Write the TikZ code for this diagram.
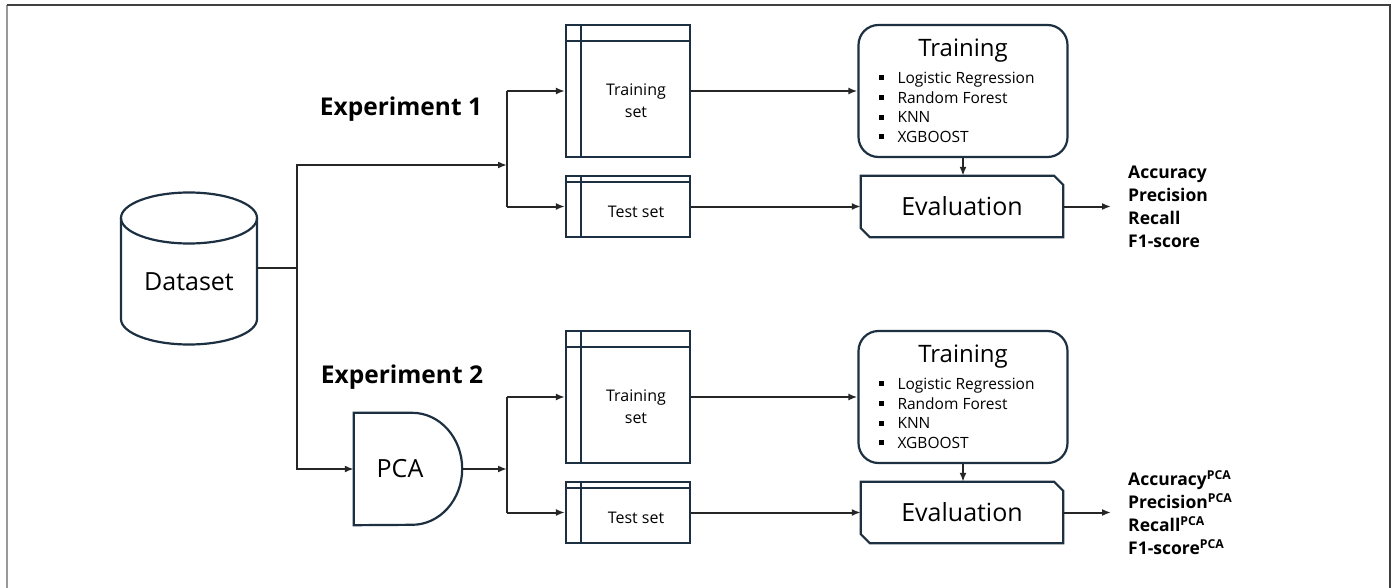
\documentclass[tikz,border=0pt]{standalone}
\usepackage{fontspec}
\setmainfont{Open Sans}
\usetikzlibrary{arrows.meta,positioning}

\definecolor{boxline}{RGB}{28,48,66}
\newcommand{\sqb}{\rule[0.22em]{0.32em}{0.32em}\hspace{0.9em}}

\tikzset{
  box/.style={draw=boxline,line width=2.2pt},
  conn/.style={line width=2pt,draw=black!85,-{Latex[length=9pt,width=7pt]}},
  plain/.style={line width=2pt,draw=black!85},
  setbox/.style={box,minimum width=124pt,inner sep=0pt},
  trnbox/.style={box,rounded corners=20pt,minimum width=209pt,minimum height=132pt},
  evalbox/.style={minimum width=202pt,minimum height=61pt,font=\fontsize{25}{30}\selectfont},
  metric/.style={anchor=west,align=left,inner xsep=17pt,font=\fontsize{17.5}{23}\selectfont\bfseries},
  expt/.style={font=\fontsize{24.5}{28}\selectfont\bfseries},
}

\begin{document}
\begin{tikzpicture}[x=1pt,y=-1pt]
\useasboundingbox (0,0) rectangle (1396,588);
\draw[black!40,line width=1.5pt] (7,5) -- (7,588);
\draw[black!75,line width=1.5pt] (7,5) -- (1390,5) -- (1390,588);

% dataset
\node (data) at (189,282) [font=\fontsize{25}{30}\selectfont] {Dataset};
\draw[box] (189,218) ellipse [x radius=68, y radius=25.5];
\draw[box] (121,218) -- (121,319) arc[start angle=180,end angle=360,x radius=68pt,y radius=25.5pt] -- (257,218);
\coordinate (dsR) at (257,268);
\coordinate (split) at (297,268);
\coordinate (jA) at (507,165);
\coordinate (jB) at (507,469);

% experiment 1
\node[expt] (exA) at (401,109) {Experiment 1};
\node[setbox,minimum height=132pt] (trsA) at (628,91) {};
\node[setbox,minimum height=61pt] (tesA) at (628,206.5) {};
\node[trnbox] (trnA) at (963,91) {};
\node[evalbox] (evalA) at (962,206.5) {Evaluation};
\node[metric] (metA) at (1111,206.5) {Accuracy\\Precision\\Recall\\F1-score};

\draw[box] ([xshift=16pt]trsA.north west) -- ([xshift=16pt]trsA.south west);
\draw[box] ([yshift=-17pt]trsA.north west) -- ([yshift=-17pt]trsA.north east);
\node[align=center,font=\fontsize{16}{22}\selectfont] (trsAl) at ([xshift=8pt,yshift=-10pt]trsA.center) {Training\\set};
\draw[box] ([xshift=16pt]tesA.north west) -- ([xshift=16pt]tesA.south west);
\draw[box] ([yshift=-7pt]tesA.north west) -- ([yshift=-7pt]tesA.north east);
\node[font=\fontsize{16}{22}\selectfont] (tesAl) at ([xshift=8pt,yshift=-5pt]tesA.center) {Test set};

\node[font=\fontsize{24}{28}\selectfont] (trnAt) at ([yshift=-27pt]trnA.north) {Training};
\node[anchor=west,align=left,inner sep=0pt,font=\fontsize{15.5}{19.7}\selectfont] (trnAl) at ([xshift=21pt,yshift=-16.5pt]trnA.west)
  {\sqb Logistic Regression\\\sqb Random Forest\\\sqb KNN\\\sqb XGBOOST};
\draw[box] (evalA.north west) -- ([xshift=-9pt]evalA.north east) -- ([yshift=-9pt]evalA.north east)
  -- (evalA.south east) -- ([xshift=9pt]evalA.south west) -- ([yshift=9pt]evalA.south west) -- cycle;

% experiment 2
\node[expt] (exB) at (402,377) {Experiment 2};
\node[minimum width=108pt,minimum height=112pt] (pca) at (408,469) {};
\draw[box] (pca.north west) -- ([xshift=-50pt]pca.north east) arc[start angle=90,end angle=-90,x radius=50pt,y radius=56pt] -- (pca.south west) -- cycle;
\node[font=\fontsize{25}{30}\selectfont] (pcal) at ([xshift=-8pt]pca.center) {PCA};
\node[setbox,minimum height=132pt] (trsB) at (628,397) {};
\node[setbox,minimum height=61pt] (tesB) at (628,512.5) {};
\node[trnbox] (trnB) at (963,397) {};
\node[evalbox] (evalB) at (962,512.5) {Evaluation};
\node[metric] (metB) at (1111,512.5) {Accuracy\textsuperscript{PCA}\\Precision\textsuperscript{PCA}\\Recall\textsuperscript{PCA}\\F1-score\textsuperscript{PCA}};

\draw[box] ([xshift=16pt]trsB.north west) -- ([xshift=16pt]trsB.south west);
\draw[box] ([yshift=-17pt]trsB.north west) -- ([yshift=-17pt]trsB.north east);
\node[align=center,font=\fontsize{16}{22}\selectfont] (trsBl) at ([xshift=8pt,yshift=-10pt]trsB.center) {Training\\set};
\draw[box] ([xshift=16pt]tesB.north west) -- ([xshift=16pt]tesB.south west);
\draw[box] ([yshift=-7pt]tesB.north west) -- ([yshift=-7pt]tesB.north east);
\node[font=\fontsize{16}{22}\selectfont] (tesBl) at ([xshift=8pt,yshift=-5pt]tesB.center) {Test set};

\node[font=\fontsize{24}{28}\selectfont] (trnBt) at ([yshift=-27pt]trnB.north) {Training};
\node[anchor=west,align=left,inner sep=0pt,font=\fontsize{15.5}{19.7}\selectfont] (trnBl) at ([xshift=21pt,yshift=-16.5pt]trnB.west)
  {\sqb Logistic Regression\\\sqb Random Forest\\\sqb KNN\\\sqb XGBOOST};
\draw[box] (evalB.north west) -- ([xshift=-9pt]evalB.north east) -- ([yshift=-9pt]evalB.north east)
  -- (evalB.south east) -- ([xshift=9pt]evalB.south west) -- ([yshift=9pt]evalB.south west) -- cycle;

% connectors
\draw[plain] (dsR) -- (split);
\draw[conn] (split) |- (jA);
\draw[conn] (split) |- (pca.west);
\draw[plain] (jA |- trsA) -- (jA |- tesA);
\draw[conn] (jA |- trsA) -- (trsA.west);
\draw[conn] (jA |- tesA) -- (tesA.west);
\draw[conn] (trsA) -- (trnA);
\draw[conn] (tesA) -- (evalA);
\draw[conn] (trnA.south) -- (trnA.south |- evalA.north);
\draw[conn] (evalA) -- (metA);
\draw[conn] (pca.east) -- (jB);
\draw[plain] (jB |- trsB) -- (jB |- tesB);
\draw[conn] (jB |- trsB) -- (trsB.west);
\draw[conn] (jB |- tesB) -- (tesB.west);
\draw[conn] (trsB) -- (trnB);
\draw[conn] (tesB) -- (evalB);
\draw[conn] (trnB.south) -- (trnB.south |- evalB.north);
\draw[conn] (evalB) -- (metB);
\end{tikzpicture}
\end{document}
